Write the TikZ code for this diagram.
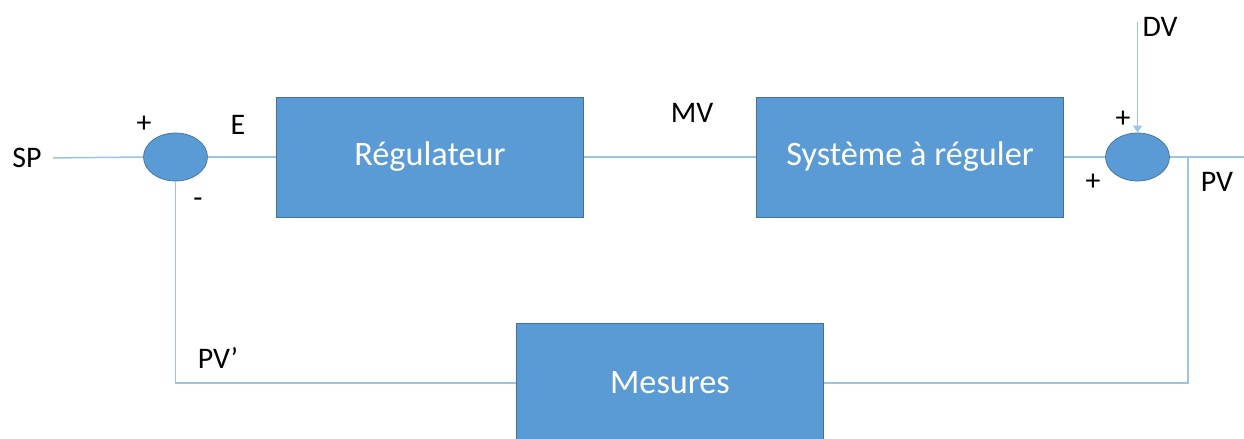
\documentclass[tikz,border=0pt]{standalone}
\usepackage{fontspec}
\setmainfont{Carlito}
\usetikzlibrary{shapes.geometric,arrows.meta}
\definecolor{boxblue}{HTML}{5B9BD5}
\definecolor{boxedge}{HTML}{41719C}
\definecolor{wireblue}{HTML}{9DC3E6}
\begin{document}
\begin{tikzpicture}[x=0.02cm,y=-0.02cm,
    font=\fontsize{17}{20}\selectfont,
    block/.style={draw=boxedge,fill=boxblue,text=white,font=\fontsize{19.5}{23}\selectfont,minimum width=6.14cm,minimum height=2.4cm,inner sep=0pt},
    sum/.style={ellipse,draw=boxedge,fill=boxblue,minimum width=1.28cm,minimum height=0.96cm,inner sep=0pt},
    wire/.style={draw=wireblue,line width=0.85pt},
    sign/.style={inner sep=0pt}]
    \clip (0,0) rectangle (1244,439);
    % blocks
    \node (sp) at (27,158) {SP};
    \node[sum] (sum1) at (175.5,157) {};
    \node[block] (reg) at (430,157) {Régulateur};
    \node[block] (sys) at (910,157) {Système à réguler};
    \node[sum] (sum2) at (1137.5,157) {};
    \node[block] (mes) at (670,383) {Mesures};
    \coordinate (out) at (1244,157);
    \coordinate (dv) at (1137.5,22);
    \coordinate (pvtap) at (1188,157);
    % forward path
    \draw[wire,shorten <=3pt] (sp.east) -- (sum1.west);
    \draw[wire] (sum1.east) -- (reg.west);
    \draw[wire] (reg.east) -- (sys.west);
    \draw[wire] (sys.east) -- (sum2.west);
    \draw[wire] (sum2.east) -- (out);
    \draw[wire,-{Triangle[width=5pt,length=4pt]}] (dv) -- (sum2.north);
    % feedback
    \draw[wire] (pvtap) |- (mes.east);
    \draw[wire] (mes.west) -| (sum1.south);
    % labels
    \node[sign] (p1) at (144,124) {+};
    \node[sign] (m1) at (198,203) {-};
    \node[sign] (e) at (238,125) {E};
    \node[sign] (mv) at (692,113) {MV};
    \node[sign] (dvl) at (1160,27) {DV};
    \node[sign] (p2) at (1123,119) {+};
    \node[sign] (p3) at (1093,182) {+};
    \node[sign] (pv) at (1217,182) {PV};
    \node[sign] (pvp) at (218,358) {PV’};
\end{tikzpicture}
\end{document}
